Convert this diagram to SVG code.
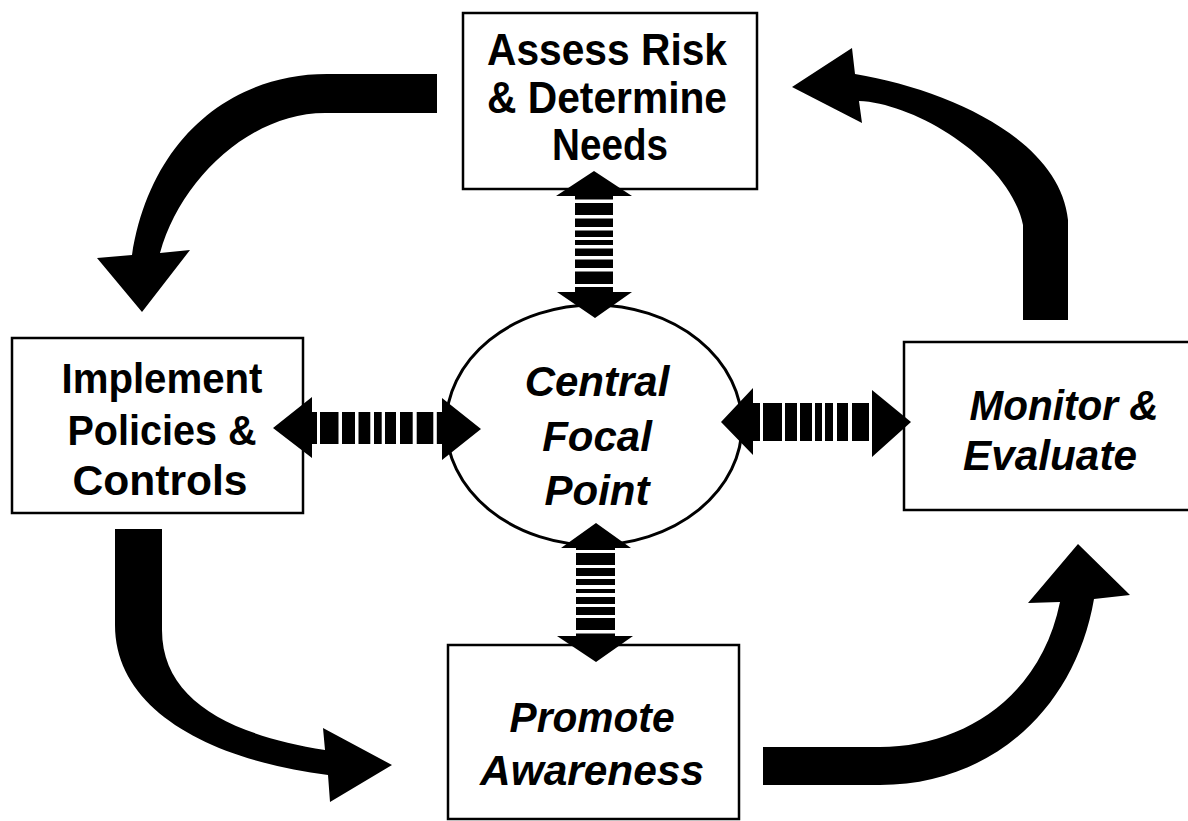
<svg xmlns="http://www.w3.org/2000/svg" width="1188" height="821" viewBox="0 0 1188 821">
<style>
.box{fill:#fff;stroke:#000;stroke-width:2.5}
.ell{fill:#fff;stroke:#000;stroke-width:3}
.t{font-family:"Liberation Sans",Arial,sans-serif;font-weight:bold;font-size:42px;fill:#000;text-anchor:middle}
.big{font-size:45px}
.i{font-style:italic}
.arr{fill:#000;stroke:none}
.gap{fill:#fff;stroke:none}
</style>
<rect width="1188" height="821" fill="#fff"/>
<g id="assess">
<rect class="box" x="463" y="13" width="294" height="176"/>
<text class="t big" x="607" y="65" textLength="240" lengthAdjust="spacingAndGlyphs">Assess Risk</text>
<text class="t big" x="607" y="113" textLength="240" lengthAdjust="spacingAndGlyphs">&amp; Determine</text>
<text class="t big" x="610" y="160" textLength="116" lengthAdjust="spacingAndGlyphs">Needs</text>
</g>
<g id="implement">
<rect class="box" x="12" y="338" width="291" height="175"/>
<text class="t" x="162" y="393" textLength="201" lengthAdjust="spacingAndGlyphs">Implement</text>
<text class="t" x="162" y="445" textLength="189" lengthAdjust="spacingAndGlyphs">Policies &amp;</text>
<text class="t" x="160" y="495" textLength="175" lengthAdjust="spacingAndGlyphs">Controls</text>
</g>
<g id="monitor">
<rect class="box" x="904" y="342" width="300" height="168"/>
<text class="t i" x="1064" y="420" textLength="189" lengthAdjust="spacingAndGlyphs">Monitor &amp;</text>
<text class="t i" x="1050" y="470" textLength="174" lengthAdjust="spacingAndGlyphs">Evaluate</text>
</g>
<g id="promote">
<rect class="box" x="448" y="645" width="291" height="174"/>
<text class="t i" x="592" y="732" textLength="165" lengthAdjust="spacingAndGlyphs">Promote</text>
<text class="t i" x="592" y="785" textLength="224" lengthAdjust="spacingAndGlyphs">Awareness</text>
</g>
<g id="focal">
<ellipse class="ell" cx="594" cy="425" rx="148" ry="120"/>
<text class="t i" x="597" y="396">Central</text>
<text class="t i" x="597" y="451">Focal</text>
<text class="t i" x="597" y="505">Point</text>
</g>
<g id="connectors">
<path class="arr" d="M437 74 L327 74 C230 74 150 140 132 255 L97 258 L142 312 L190 250 L160 253 C180 180 250 113 325 113 L437 113 Z"/>
<path class="arr" d="M1023 320 L1068 320 L1068 220 C1060 140 950 90 855 74 L852 48 L792 87 L862 123 L859 101 C915 103 1010 160 1023 225 Z"/>
<path class="arr" d="M115 529 L162 529 L162 630 C162 700 230 735 325 750 L323 728 L392 765 L330 802 L328 775 C210 760 115 710 115 625 Z"/>
<path class="arr" d="M763 747 L880 747 C960 747 1040 700 1060 602 L1028 603 L1078 544 L1130 595 L1094 599 C1075 710 990 785 880 785 L763 785 Z"/>
<g id="link-left">
<path class="arr" d="M273 428 L312 397 L312 412 L442 412 L442 398 L481 429 L442 460 L442 444 L312 444 L312 458 Z"/>
<rect class="gap" x="317" y="410" width="3" height="36"/>
<rect class="gap" x="338.5" y="410" width="3.5" height="36"/>
<rect class="gap" x="355" y="410" width="3.5" height="36"/>
<rect class="gap" x="370.3" y="410" width="3.7" height="36"/>
<rect class="gap" x="381.7" y="410" width="3.3" height="36"/>
<rect class="gap" x="396" y="410" width="4" height="36"/>
<rect class="gap" x="412.7" y="410" width="4" height="36"/>
<rect class="gap" x="433.3" y="410" width="3.5" height="36"/>
</g>
<g id="link-right">
<path class="arr" d="M721 422 L753 388 L753 403 L872 403 L872 390 L911 422 L872 457 L872 441 L753 441 L753 455 Z"/>
<rect class="gap" x="760" y="401" width="3" height="42"/>
<rect class="gap" x="782" y="401" width="3" height="42"/>
<rect class="gap" x="797" y="401" width="3" height="42"/>
<rect class="gap" x="812" y="401" width="3" height="42"/>
<rect class="gap" x="822" y="401" width="3" height="42"/>
<rect class="gap" x="833" y="401" width="4" height="42"/>
<rect class="gap" x="848" y="401" width="4" height="42"/>
<rect class="gap" x="869" y="401" width="3" height="42"/>
</g>
<g id="link-top">
<path class="arr" d="M594 171 L632 196 L613 196 L613 292 L632 292 L595 318 L557 292 L575 292 L575 196 L556 196 Z"/>
<rect class="gap" x="573" y="199.5" width="42" height="3.5"/>
<rect class="gap" x="573" y="215" width="42" height="3.5"/>
<rect class="gap" x="573" y="227" width="42" height="3.5"/>
<rect class="gap" x="573" y="237" width="42" height="3"/>
<rect class="gap" x="573" y="245" width="42" height="3.5"/>
<rect class="gap" x="573" y="256" width="42" height="3.5"/>
<rect class="gap" x="573" y="268" width="42" height="3.5"/>
<rect class="gap" x="573" y="284" width="42" height="3"/>
</g>
<g id="link-bottom">
<path class="arr" d="M596 523 L631 548 L615 548 L615 636 L633 636 L596 662 L557 636 L576 636 L576 548 L561 548 Z"/>
<rect class="gap" x="574" y="550" width="43" height="3"/>
<rect class="gap" x="574" y="565" width="43" height="3"/>
<rect class="gap" x="574" y="576" width="43" height="3"/>
<rect class="gap" x="574" y="585" width="43" height="4"/>
<rect class="gap" x="574" y="593" width="43" height="4"/>
<rect class="gap" x="574" y="604" width="43" height="3"/>
<rect class="gap" x="574" y="615" width="43" height="3"/>
<rect class="gap" x="574" y="630" width="43" height="3.5"/>
</g>
</g>
</svg>
